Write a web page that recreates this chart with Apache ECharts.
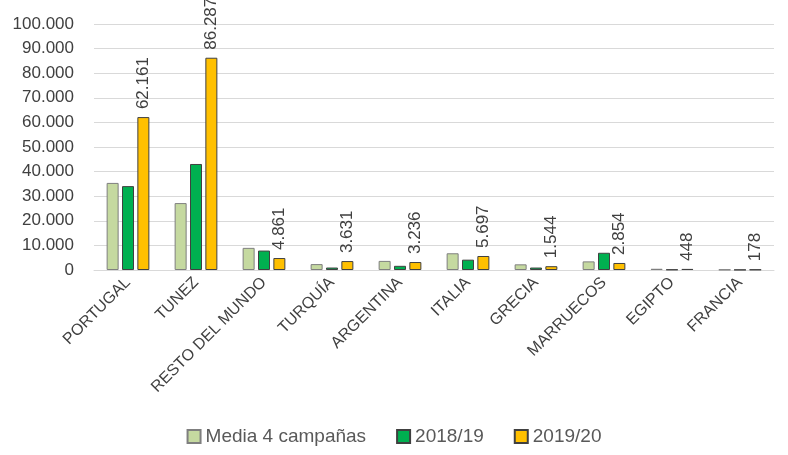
<!DOCTYPE html>
<html>
<head>
<meta charset="utf-8">
<script src="https://cdn.jsdelivr.net/npm/echarts@6/dist/echarts.min.js"></script>
<style>
  html, body { margin: 0; padding: 0; background: #fff; }
  #chart { width: 788px; height: 455px; }
</style>
</head>
<body>
<div id="chart"></div>
<script>
const categories = ['PORTUGAL', 'TUNEZ', 'RESTO DEL MUNDO', 'TURQUÍA', 'ARGENTINA', 'ITALIA', 'GRECIA', 'MARRUECOS', 'EGIPTO', 'FRANCIA']
const media4 = [35400, 27200, 9000, 2400, 3700, 6800, 2300, 3500, 500, 150]
const campana1819 = [34100, 43100, 7900, 1000, 1700, 4200, 1000, 7000, 200, 100]
const campana1920 = [62161, 86287, 4861, 3631, 3236, 5697, 1544, 2854, 448, 178]

/*formato con punto de miles*/
const fmt = v => String(Math.round(v)).replace(/\B(?=(\d{3})+(?!\d))/g, '.')

const font = 'Liberation Sans, Arial, sans-serif'
const chart = echarts.init(document.getElementById('chart'))

const option = {
  animation: false,
  grid: { left: 94, right: 14, top: 24, bottom: 185 },
  legend: {
    bottom: 4,
    left: 'center',
    icon: 'rect',
    itemWidth: 13,
    itemHeight: 13,
    itemGap: 30,
    textStyle: { fontFamily: font, fontSize: 19, color: '#595959' },
    data: ['Media 4 campañas', '2018/19', '2019/20']
  },
  xAxis: {
    type: 'category',
    data: categories,
    axisTick: { show: false },
    axisLine: { lineStyle: { color: '#d9d9d9' } },
    axisLabel: {
      rotate: 45,
      interval: 0,
      margin: 10,
      fontFamily: font,
      fontSize: 16,
      color: '#404040'
    }
  },
  yAxis: {
    type: 'value',
    min: 0,
    max: 100000,
    interval: 10000,
    axisLine: { show: false },
    axisTick: { show: false },
    splitLine: { lineStyle: { color: '#d9d9d9' } },
    axisLabel: {
      formatter: fmt,
      fontFamily: font,
      fontSize: 17,
      color: '#404040',
      margin: 20
    }
  },
  series: [
    {
      name: 'Media 4 campañas',
      type: 'bar',
      data: media4,
      barWidth: 12,
      barGap: '28%',
      itemStyle: { color: '#c5d9a0', borderColor: '#7f7f7f', borderWidth: 1 }
    },
    {
      name: '2018/19',
      type: 'bar',
      data: campana1819,
      barWidth: 12,
      barGap: '28%',
      itemStyle: { color: '#00b050', borderColor: '#404040', borderWidth: 1 }
    },
    {
      name: '2019/20',
      type: 'bar',
      data: campana1920,
      barWidth: 12,
      barGap: '28%',
      itemStyle: { color: '#ffc000', borderColor: '#404040', borderWidth: 1 },
      label: {
        show: true,
        position: 'top',
        rotate: 90,
        align: 'left',
        verticalAlign: 'middle',
        distance: 8,
        formatter: p => fmt(p.value),
        fontFamily: font,
        fontSize: 17,
        color: '#404040'
      }
    }
  ]
}
chart.setOption(option)
</script>
</body>
</html>
